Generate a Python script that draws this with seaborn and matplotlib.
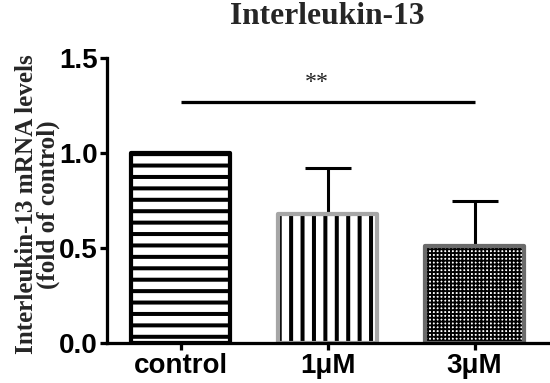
import matplotlib
matplotlib.use("Agg")
import matplotlib.pyplot as plt
import seaborn as sns
import pandas as pd
import numpy as np
from matplotlib.patches import Rectangle

# ---- data ----
groups = ["control", "1μM", "3μM"]
means = [1.0, 0.68, 0.51]
err_up = [0.0, 0.24, 0.24]
yticks = [0.0, 0.5, 1.0, 1.5]
sig_pair = [0, 2]
sig_y = 1.27
sig_label = "**"

# ---- style ----
hatches = ["--", "||", "++++++"]
hatch_lw = [2.1, 2.1, 1.0]
edge_colors = ["#000000", "#a6a6a6", "#6b6b6b"]

DPI = 137.5
sns.set_theme(style="ticks")
plt.rcParams["font.family"] = ["Liberation Sans", "DejaVu Sans"]
plt.rcParams["hatch.linewidth"] = 2.1

fig = plt.figure(figsize=(550 / DPI, 383 / DPI), dpi=DPI)
ax = fig.add_axes([107 / 550, 40 / 383, 441 / 550, 285 / 383])

df = pd.DataFrame({"group": groups, "value": means})
sns.barplot(data=df, x="group", y="value", color="white", saturation=1,
            width=0.67, linewidth=0, edgecolor="black", errorbar=None, ax=ax)

pos = np.arange(len(groups))
bars = list(ax.patches)
for p, h, hl, ec in zip(bars, hatches, hatch_lw, edge_colors):
    p.set_hatch(h)
    p.set_edgecolor("black")
    p.set_linewidth(0)
    if hasattr(p, "set_hatch_linewidth"):
        p.set_hatch_linewidth(hl)
    outline = Rectangle(p.get_xy(), p.get_width(), p.get_height(), fill=False,
                        edgecolor=ec, linewidth=2.2, joinstyle="round", zorder=p.get_zorder() + 0.1)
    ax.add_patch(outline)

mask = [e > 0 for e in err_up]
ax.errorbar(pos[mask], np.array(means)[mask],
            yerr=[np.zeros(sum(mask)), np.array(err_up)[mask]],
            fmt="none", ecolor="black", elinewidth=1.6, capsize=12, capthick=1.6, zorder=1)

# significance bar
ax.plot(sig_pair, [sig_y, sig_y], color="black", lw=1.7, solid_capstyle="butt")
ax.text(0.93, sig_y + 0.1, sig_label, ha="center", va="center", fontsize=12.5,
        family=["Liberation Serif"], color="#222222")

ax.set_xlim(-0.5, 2.5)
ax.set_ylim(0, 1.5)
ax.set_yticks(yticks)
ax.set_yticklabels([f"{t:.1f}" for t in yticks])
ax.set_xlabel("")
ax.set_ylabel("Interleukin-13 mRNA levels\n(fold of control)", family=["Liberation Serif"],
              fontweight="bold", fontsize=13.2, linespacing=0.95)
ax.yaxis.set_label_coords(-0.106, 0.486)

sns.despine(ax=ax)
for s in ["left", "bottom"]:
    ax.spines[s].set_linewidth(1.7)
    ax.spines[s].set_color("black")
ax.tick_params(axis="both", direction="out", length=3.5, width=1.7, color="black",
               labelsize=14.5, pad=1.5, labelcolor="black")
for lab in ax.get_xticklabels() + ax.get_yticklabels():
    lab.set_fontweight("bold")

ax.set_title("Interleukin-13", family=["Liberation Serif"], fontweight="bold",
             fontsize=16.5, pad=18)

fig.savefig("out.png", dpi=DPI)
